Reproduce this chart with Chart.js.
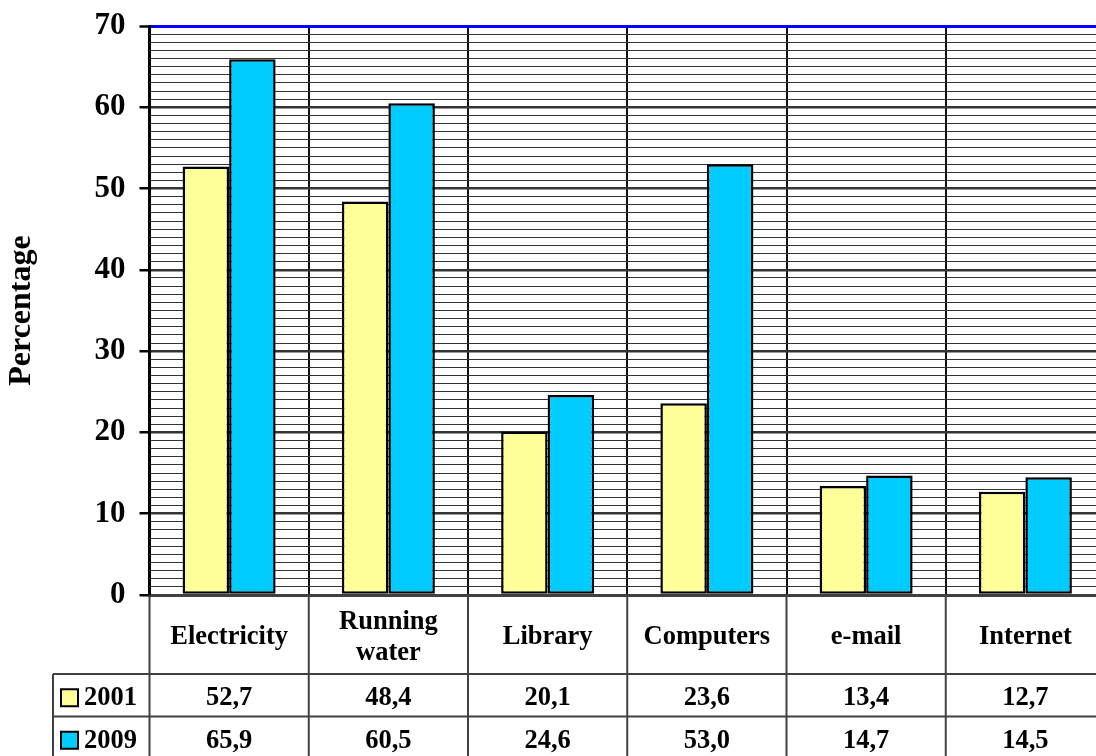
<!DOCTYPE html>
<html>
<head>
<meta charset="utf-8">
<script src="https://cdn.jsdelivr.net/npm/chart.js@4.4.1/dist/chart.umd.min.js"></script>
<style>
  html, body { margin: 0; padding: 0; background: #fff; overflow: hidden; }
  #wrap { width: 1110px; height: 756px; position: relative; }
</style>
</head>
<body>
<div id="wrap"><canvas id="c"></canvas></div>
<script>
const categories = ['Electricity', ['Running', 'water'], 'Library', 'Computers', 'e-mail', 'Internet'];
const seriesNames = ['2001', '2009'];
const values2001 = [52.7, 48.4, 20.1, 23.6, 13.4, 12.7];
const values2009 = [65.9, 60.5, 24.6, 53.0, 14.7, 14.5];
const seriesColors = ['#FFFF99', '#00CCFF'];
const yMin = 0, yMax = 70, yStep = 1, yMajor = 10;
const yTitle = 'Percentage';

const FONT = '"Liberation Serif", "Times New Roman", serif';

const tablePlugin = {
  id: 'dataTable',
  afterDraw(chart) {
    const ctx = chart.ctx;
    const xs = chart.scales.x;
    const area = chart.chartArea;
    const n = categories.length;
    const catW = (xs.getPixelForValue(1) - xs.getPixelForValue(0));
    const top = area.bottom;
    const headerBottom = top + 79;
    const rowH = 42.5;
    const legendLeft = 53;
    const rightEdge = xs.getPixelForValue(n - 1) + catW / 2;
    const series = [values2001, values2009];

    ctx.save();
    ctx.strokeStyle = '#404040';
    ctx.lineWidth = 2;
    for (let i = 0; i <= n; i++) {
      const x = xs.getPixelForValue(0) - catW / 2 + i * catW;
      ctx.beginPath();
      ctx.moveTo(x, top);
      ctx.lineTo(x, headerBottom + rowH * 2 + 2);
      ctx.stroke();
    }
    ctx.beginPath();
    ctx.moveTo(legendLeft, headerBottom);
    ctx.lineTo(legendLeft, headerBottom + rowH * 2 + 2);
    ctx.stroke();
    for (let r = 0; r <= 2; r++) {
      const y = headerBottom + r * rowH;
      ctx.beginPath();
      ctx.moveTo(legendLeft, y);
      ctx.lineTo(rightEdge, y);
      ctx.stroke();
    }

    ctx.fillStyle = '#000';
    ctx.textAlign = 'center';
    ctx.textBaseline = 'middle';
    ctx.font = 'bold 26.5px ' + FONT;
    for (let i = 0; i < n; i++) {
      const cx = xs.getPixelForValue(i);
      const lab = categories[i];
      const lines = Array.isArray(lab) ? lab : [lab];
      const lh = 31;
      const cy = (top + headerBottom) / 2 + 3;
      lines.forEach((t, k) => {
        ctx.fillText(t, cx, cy + (k - (lines.length - 1) / 2) * lh);
      });
    }
    series.forEach((vals, r) => {
      const cy = headerBottom + r * rowH + rowH / 2 + 3;
      for (let i = 0; i < n; i++) {
        const cx = xs.getPixelForValue(i);
        ctx.fillText(vals[i].toFixed(1).replace('.', ','), cx, cy);
      }
      ctx.fillStyle = seriesColors[r];
      ctx.fillRect(61, cy - 9, 17, 17);
      ctx.strokeStyle = '#000';
      ctx.lineWidth = 2;
      ctx.strokeRect(61, cy - 9, 17, 17);
      ctx.fillStyle = '#000';
      ctx.textAlign = 'left';
      ctx.fillText(seriesNames[r], 84, cy);
      ctx.textAlign = 'center';
    });
    ctx.restore();
  }
};

new Chart(document.getElementById('c'), {
  type: 'bar',
  data: {
    labels: categories,
    datasets: [
      { label: seriesNames[0], data: values2001, backgroundColor: seriesColors[0], borderColor: '#000', borderWidth: 2.5, borderSkipped: false },
      { label: seriesNames[1], data: values2009, backgroundColor: seriesColors[1], borderColor: '#000', borderWidth: 2.5, borderSkipped: false }
    ]
  },
  options: {
    responsive: true,
    maintainAspectRatio: false,
    animation: false,
    devicePixelRatio: 1,
    layout: { padding: { top: 26, left: 0, right: 5, bottom: 161 } },
    plugins: { legend: { display: false }, tooltip: { enabled: false } },
    datasets: { bar: { categoryPercentage: 0.584, barPercentage: 1.0 } },
    scales: {
      x: {
        offset: true,
        ticks: { display: false },
        grid: { offset: true, color: '#111', lineWidth: 2, drawTicks: false },
        border: { display: true, color: '#404040', width: 3 },
        afterFit(s) { s.height = 0; }
      },
      y: {
        min: yMin, max: yMax,
        ticks: {
          stepSize: yStep,
          autoSkip: false,
          padding: 14,
          color: '#000',
          font: { family: FONT, size: 31, weight: 'bold' },
          callback: (v) => (v % yMajor === 0 ? String(v) : '')
        },
        grid: {
          color: (c) => c.tick.value === yMax ? '#0000FF' : '#333',
          lineWidth: (c) => c.tick.value === yMax ? 3 : (c.tick.value % yMajor === 0 ? 2.5 : 1),
          tickColor: (c) => c.tick.value % yMajor === 0 ? '#000' : 'rgba(0,0,0,0)',
          tickLength: 10,
          tickWidth: 2.5
        },
        border: { display: true, color: '#000', width: 3 },
        title: {
          display: true,
          text: yTitle,
          color: '#000',
          font: { family: FONT, size: 32, weight: 'bold' },
          padding: { top: 3, bottom: 0 }
        },
        afterFit(s) { s.width = 149.5; s.paddingTop = 0; s.paddingBottom = 0; }
      }
    }
  },
  plugins: [tablePlugin]
});
</script>
</body>
</html>
